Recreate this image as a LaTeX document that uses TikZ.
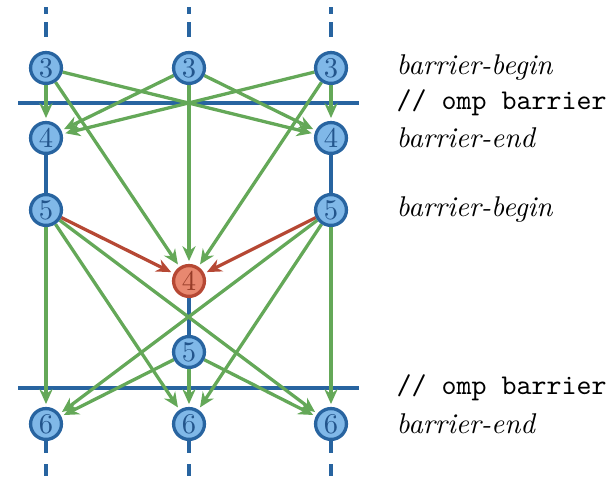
\documentclass[tikz,border=0pt]{standalone}
\usetikzlibrary{arrows.meta}
\definecolor{threadblue}{RGB}{40,100,160}
\definecolor{nodeblue}{RGB}{128,184,232}
\definecolor{digitblue}{RGB}{35,85,140}
\definecolor{nodered}{RGB}{232,136,112}
\definecolor{edgered}{RGB}{182,72,52}
\definecolor{digitred}{RGB}{150,60,40}
\definecolor{syncgreen}{RGB}{100,168,88}
\pgfdeclarelayer{threads}
\pgfdeclarelayer{edges}
\pgfsetlayers{threads,edges,main}
\begin{document}
\begin{tikzpicture}[x=0.35pt,y=-0.35pt,
  evt/.style={circle, draw=threadblue, fill=nodeblue, text=digitblue,
    line width=1.15pt, minimum size=10.8pt, inner sep=0pt},
  crit/.style={evt, draw=edgered, fill=nodered, text=digitred},
  thread/.style={draw=threadblue, line width=1.15pt},
  fade/.style={thread, dash pattern=on 5.25pt off 2.8pt},
  fadeout/.style={thread, dash pattern=on 4.2pt off 3.85pt},
  sync/.style={draw=syncgreen, line width=1.15pt,
    -{Stealth[length=5.2pt,width=4.6pt]}, shorten >=1pt},
  lock/.style={sync, draw=edgered},
  lbl/.style={anchor=west, inner sep=0pt}]
\path[use as bounding box] (0,0) rectangle (615,481);

% events of the three threads
\node[evt]  (L3) at (46,68)  {3};
\node[evt]  (M3) at (189,68) {3};
\node[evt]  (R3) at (331,68) {3};
\node[evt]  (L4) at (46,138) {4};
\node[evt]  (R4) at (331,138) {4};
\node[evt]  (L5) at (46,210) {5};
\node[evt]  (R5) at (331,210) {5};
\node[crit] (C4) at (189,281) {4};
\node[evt]  (M5) at (189,352) {5};
\node[evt]  (L6) at (46,424) {6};
\node[evt]  (M6) at (189,424) {6};
\node[evt]  (R6) at (331,424) {6};

% loose ends of the threads
\coordinate (Lt) at (46,7);   \coordinate (Mt) at (189,7);   \coordinate (Rt) at (331,7);
\coordinate (Lb) at (46,476); \coordinate (Mb) at (189,476); \coordinate (Rb) at (331,476);

% barrier lines
\coordinate (b1w) at (18,103); \coordinate (b1e) at (359,103);
\coordinate (b2w) at (18,388); \coordinate (b2e) at (359,388);

\begin{pgfonlayer}{threads}
\draw[thread] (b1w) -- (b1e);
\draw[thread] (b2w) -- (b2e);
\draw[thread] (L4) -- (L5);
\draw[thread] (R4) -- (R5);
\draw[thread] (C4) -- (M5);
\draw[fade] (L3.north) ++(0,-14) -- (Lt);
\draw[fade] (M3.north) ++(0,-14) -- (Mt);
\draw[fade] (R3.north) ++(0,-14) -- (Rt);
\draw[fadeout] (L6.south) -- (Lb);
\draw[fadeout] (M6.south) -- (Mb);
\draw[fadeout] (R6.south) -- (Rb);
\end{pgfonlayer}

\begin{pgfonlayer}{edges}
% synchronisation at the first barrier
\foreach \s in {L3,M3,R3}{
  \draw[sync] (\s) -- (L4);
  \draw[sync] (\s) -- (R4);
  \draw[sync] (\s) -- (C4);
}
% lock hand-over into the critical event
\draw[lock] (L5) -- (C4);
\draw[lock] (R5) -- (C4);
% synchronisation at the second barrier
\foreach \s in {L5,M5,R5}{
  \draw[sync] (\s) -- (L6);
  \draw[sync] (\s) -- (M6);
  \draw[sync] (\s) -- (R6);
}
\end{pgfonlayer}

% source annotations
\node[lbl] (t1) at (396,68)  {\textit{barrier-begin}};
\node[lbl] (t2) at (396,103) {\texttt{// omp barrier}};
\node[lbl] (t3) at (396,138) {\textit{barrier-end}};
\node[lbl] (t4) at (396,210) {\textit{barrier-begin}};
\node[lbl] (t5) at (396,388) {\texttt{// omp barrier}};
\node[lbl] (t6) at (396,424) {\textit{barrier-end}};
\end{tikzpicture}
\end{document}
